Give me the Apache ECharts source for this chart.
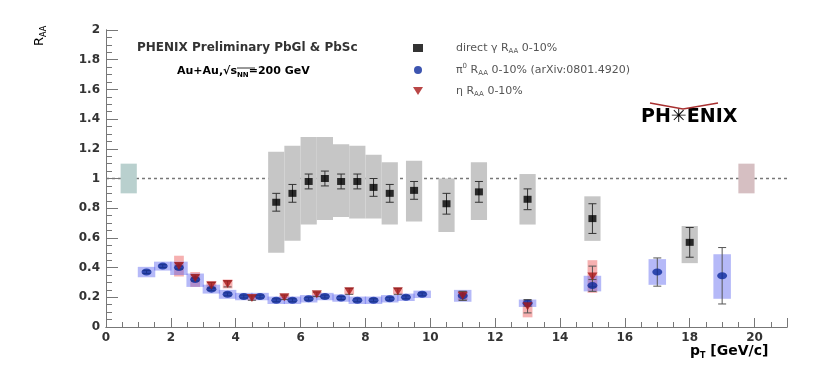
<!DOCTYPE html>
<html>
<head>
<meta charset="utf-8">
<script src="https://cdn.jsdelivr.net/npm/echarts@6/dist/echarts.min.js"></script>
<style>
  html, body { margin: 0; background: #fff; }
  #main { width: 830px; height: 382px; }
</style>
</head>
<body>
<div id="main"></div>
<script>
// direct photon R_AA, 0-10%
const gammaPt = [5.25, 5.75, 6.25, 6.75, 7.25, 7.75, 8.25, 8.75, 9.5, 10.5, 11.5, 13, 15, 18]
const gammaR = [0.84, 0.90, 0.98, 1.00, 0.98, 0.98, 0.94, 0.90, 0.92, 0.83, 0.91, 0.86, 0.73, 0.57]
const gammaStat = [0.06, 0.06, 0.05, 0.05, 0.05, 0.05, 0.06, 0.06, 0.06, 0.07, 0.07, 0.07, 0.10, 0.10]
const gammaSysLo = [0.50, 0.58, 0.69, 0.72, 0.74, 0.73, 0.73, 0.69, 0.71, 0.64, 0.72, 0.69, 0.58, 0.43]
const gammaSysHi = [1.18, 1.22, 1.28, 1.28, 1.23, 1.22, 1.16, 1.11, 1.12, 1.00, 1.11, 1.03, 0.88, 0.68]

// pi0 R_AA, 0-10% (arXiv:0801.4920)
const pi0Pt = [1.25, 1.75, 2.25, 2.75, 3.25, 3.75, 4.25, 4.75, 5.25, 5.75, 6.25, 6.75, 7.25, 7.75, 8.25, 8.75, 9.25, 9.75, 11, 13, 15, 17, 19]
const pi0R = [0.37, 0.41, 0.40, 0.32, 0.255, 0.22, 0.205, 0.205, 0.18, 0.18, 0.19, 0.205, 0.195, 0.18, 0.18, 0.19, 0.20, 0.22, 0.21, 0.16, 0.28, 0.37, 0.345]
const pi0Stat = [0.01, 0.01, 0.01, 0.01, 0.01, 0.01, 0.01, 0.01, 0.01, 0.01, 0.01, 0.01, 0.01, 0.01, 0.01, 0.01, 0.01, 0.01, 0.03, 0.02, 0.04, 0.095, 0.19]
const pi0SysLo = [0.335, 0.38, 0.35, 0.27, 0.225, 0.19, 0.18, 0.18, 0.155, 0.155, 0.165, 0.18, 0.17, 0.155, 0.155, 0.165, 0.175, 0.195, 0.17, 0.135, 0.24, 0.284, 0.19]
const pi0SysHi = [0.405, 0.44, 0.44, 0.36, 0.285, 0.25, 0.23, 0.23, 0.205, 0.205, 0.215, 0.23, 0.22, 0.205, 0.205, 0.215, 0.225, 0.245, 0.25, 0.185, 0.345, 0.457, 0.49]

// eta R_AA, 0-10%
const etaPt = [2.25, 2.75, 3.25, 3.75, 4.5, 5.5, 6.5, 7.5, 9, 11, 13, 15]
const etaR = [0.41, 0.33, 0.28, 0.29, 0.195, 0.20, 0.22, 0.24, 0.24, 0.21, 0.14, 0.34]
const etaStat = [0.02, 0.02, 0.02, 0.02, 0.015, 0.015, 0.015, 0.02, 0.02, 0.03, 0.045, 0.07]
const etaSysLo = [0.34, 0.27, 0.25, 0.26, 0.18, 0.18, 0.20, 0.22, 0.22, 0.18, 0.065, 0.23]
const etaSysHi = [0.48, 0.37, 0.31, 0.32, 0.21, 0.22, 0.24, 0.26, 0.26, 0.24, 0.18, 0.45]

// global normalisation boxes at R_AA = 1
const normPt = [0.7, 19.75]
const normLo = [0.9, 0.9]
const normHi = [1.1, 1.1]

const unityLine = [[0, 1], [21, 1]]

const FONT = 'DejaVu Sans'

const zip = (...arrs) => arrs[0].map((_, i) => arrs.map((a) => a[i]))

// box from [x, lo, hi], half width in pT units
const boxSeries = (name, data, halfWidth, colors, z) => ({
  name,
  type: 'custom',
  z,
  silent: true,
  data,
  encode: { x: 0, y: [1, 2] },
  renderItem: (params, api) => {
    const a = api.coord([api.value(0) - halfWidth, api.value(2)])
    const b = api.coord([api.value(0) + halfWidth, api.value(1)])
    return {
      type: 'rect',
      shape: { x: a[0], y: a[1], width: b[0] - a[0], height: b[1] - a[1] },
      style: { fill: colors[params.dataIndex % colors.length] }
    }
  }
})

// vertical error bar from [x, y, err]
const errSeries = (name, data, color, z) => ({
  name,
  type: 'custom',
  z,
  silent: true,
  data,
  encode: { x: 0, y: 1 },
  renderItem: (params, api) => {
    const x = api.value(0)
    const top = api.coord([x, api.value(1) + api.value(2)])
    const bot = api.coord([x, api.value(1) - api.value(2)])
    const cap = 4
    const st = { stroke: color, lineWidth: 1 }
    return {
      type: 'group',
      children: [
        { type: 'line', shape: { x1: top[0], y1: top[1], x2: bot[0], y2: bot[1] }, style: st },
        { type: 'line', shape: { x1: top[0] - cap, y1: top[1], x2: top[0] + cap, y2: top[1] }, style: st },
        { type: 'line', shape: { x1: bot[0] - cap, y1: bot[1], x2: bot[0] + cap, y2: bot[1] }, style: st }
      ]
    }
  }
})

const triDown = 'path://M0,0L10,0L5,8Z'

const legendRich = {
  sp: { width: 28 },
  t: { fontFamily: FONT, fontSize: 11, color: '#555', lineHeight: 14 },
  s: { fontFamily: FONT, fontSize: 7, color: '#555', lineHeight: 8, verticalAlign: 'bottom' },
  u: { fontFamily: FONT, fontSize: 7, color: '#555', lineHeight: 8, verticalAlign: 'top' }
}
const legendText = {
  direct: '{sp|}{t|direct γ R}{s|AA}{t| 0-10%}',
  pi0: '{sp|}{t|π}{u|0}{t| R}{s|AA}{t| 0-10% (arXiv:0801.4920)}',
  eta: '{sp|}{t|η R}{s|AA}{t| 0-10%}'
}

const chart = echarts.init(document.getElementById('main'))

const frameColor = '#777'
const tickColor = '#777'

// plain frame axes for the top and right edges
const frameAxis = (position, min, max) => ({
  type: 'value',
  position,
  min,
  max,
  axisLine: { show: true, lineStyle: { color: frameColor } },
  axisTick: { show: false },
  axisLabel: { show: false },
  splitLine: { show: false }
})

const option = {
  animation: false,
  backgroundColor: '#fff',
  grid: { left: 106, right: 43, top: 30, bottom: 55 },
  legend: {
    orient: 'vertical',
    left: 408,
    top: 37,
    itemWidth: 10,
    itemHeight: 8,
    itemGap: 8,
    selectedMode: false,
    data: [
      { name: 'direct', icon: 'rect' },
      { name: 'pi0', icon: 'circle' },
      { name: 'eta', icon: triDown }
    ],
    formatter: (name) => legendText[name],
    textStyle: { rich: legendRich }
  },
  xAxis: [
    {
      type: 'value',
      min: 0,
      max: 21,
      interval: 2,
      axisLine: { show: true, lineStyle: { color: frameColor } },
      axisTick: { show: true, inside: true, length: 9, lineStyle: { color: tickColor } },
      minorTick: { show: true, splitNumber: 4, length: 5, lineStyle: { color: tickColor } },
      splitLine: { show: false },
      axisLabel: {
        margin: 5,
        fontFamily: FONT,
        fontWeight: 'bold',
        fontSize: 12,
        color: '#333',
        formatter: (v) => (v > 20 ? '' : v)
      }
    },
    frameAxis('top', 0, 21)
  ],
  yAxis: [
    {
      type: 'value',
      min: 0,
      max: 2,
      interval: 0.2,
      axisLine: { show: true, lineStyle: { color: frameColor } },
      axisTick: { show: true, inside: true, length: 12, lineStyle: { color: tickColor } },
      minorTick: { show: true, splitNumber: 4, length: 6, lineStyle: { color: tickColor } },
      splitLine: { show: false },
      axisLabel: {
        margin: 6,
        fontFamily: FONT,
        fontWeight: 'bold',
        fontSize: 12,
        color: '#333',
        formatter: (v) => +v.toFixed(1) + ''
      }
    },
    frameAxis('right', 0, 2)
  ],
  graphic: [
    {
      type: 'text', left: 137, top: 42,
      style: { text: 'PHENIX Preliminary PbGl & PbSc', font: 'bold 12px "DejaVu Sans"', fill: '#333' }
    },
    {
      type: 'text', left: 177, top: 66,
      style: {
        text: '{t|Au+Au,√}{t|s}{s|NN}{t|=200 GeV}',
        rich: {
          t: { fontFamily: FONT, fontWeight: 'bold', fontSize: 11, color: '#333', lineHeight: 14 },
          s: { fontFamily: FONT, fontWeight: 'bold', fontSize: 7, color: '#333', lineHeight: 8, verticalAlign: 'bottom' }
        }
      }
    },
    {
      // overline of the square root
      type: 'line',
      shape: { x1: 237, y1: 68, x2: 255, y2: 68 },
      style: { stroke: '#333', lineWidth: 1 }
    },
    {
      type: 'text', left: 641, top: 108,
      style: {
        text: '{a|PH}{b|✳}{a|ENIX}',
        rich: {
          a: { fontFamily: FONT, fontWeight: 'bold', fontSize: 19, color: '#222' },
          b: { fontFamily: FONT, fontSize: 19, color: '#aaa' }
        }
      }
    },
    {
      type: 'polyline',
      shape: { points: [[650, 103], [683, 109], [718, 103]] },
      style: { stroke: '#a83030', lineWidth: 1.5, fill: null }
    },
    {
      type: 'text', x: 40, y: 36, rotation: Math.PI / 2,
      style: {
        text: '{t|R}{s|AA}',
        align: 'center', verticalAlign: 'middle',
        rich: {
          t: { fontFamily: FONT, fontSize: 13, color: '#333', lineHeight: 16 },
          s: { fontFamily: FONT, fontSize: 8, color: '#333', lineHeight: 9, verticalAlign: 'bottom' }
        }
      }
    },
    {
      type: 'text', left: 690, top: 344,
      style: {
        text: '{t|p}{s|T}{t| [GeV/c]}',
        rich: {
          t: { fontFamily: FONT, fontWeight: 'bold', fontSize: 14, color: '#333', lineHeight: 17 },
          s: { fontFamily: FONT, fontWeight: 'bold', fontSize: 8, color: '#333', lineHeight: 9, verticalAlign: 'bottom' }
        }
      }
    }
  ],
  series: [
    {
      name: 'unity',
      type: 'line',
      data: unityLine,
      symbol: 'none',
      silent: true,
      z: 1,
      lineStyle: { color: '#777', width: 1.5, type: [3, 3] }
    },
    boxSeries('norm', zip(normPt, normLo, normHi), 0.25, ['#b9d0ce', '#d6bfc2'], 2),
    boxSeries('gammaSys', zip(gammaPt, gammaSysLo, gammaSysHi), 0.25, ['#c6c6c6'], 2),
    boxSeries('etaSys', zip(etaPt, etaSysLo, etaSysHi), 0.15, ['rgba(235,80,80,0.45)'], 3),
    boxSeries('pi0Sys', zip(pi0Pt, pi0SysLo, pi0SysHi), 0.27, ['rgba(90,100,240,0.45)'], 3),
    errSeries('gammaErr', zip(gammaPt, gammaR, gammaStat), '#333', 4),
    errSeries('pi0Err', zip(pi0Pt, pi0R, pi0Stat), '#555', 4),
    errSeries('etaErr', zip(etaPt, etaR, etaStat), '#555', 4),
    {
      name: 'pi0',
      type: 'scatter',
      z: 5,
      symbol: 'circle',
      symbolSize: [10, 7],
      itemStyle: { color: '#0c2a9c' },
      data: zip(pi0Pt, pi0R)
    },
    {
      name: 'eta',
      type: 'scatter',
      z: 6,
      symbol: triDown,
      symbolSize: [10, 8],
      itemStyle: { color: '#a81818' },
      data: zip(etaPt, etaR)
    },
    {
      name: 'direct',
      type: 'scatter',
      z: 7,
      symbol: 'rect',
      symbolSize: [8, 7],
      itemStyle: { color: '#000' },
      data: zip(gammaPt, gammaR)
    }
  ]
}

chart.setOption(option)
</script>
</body>
</html>
